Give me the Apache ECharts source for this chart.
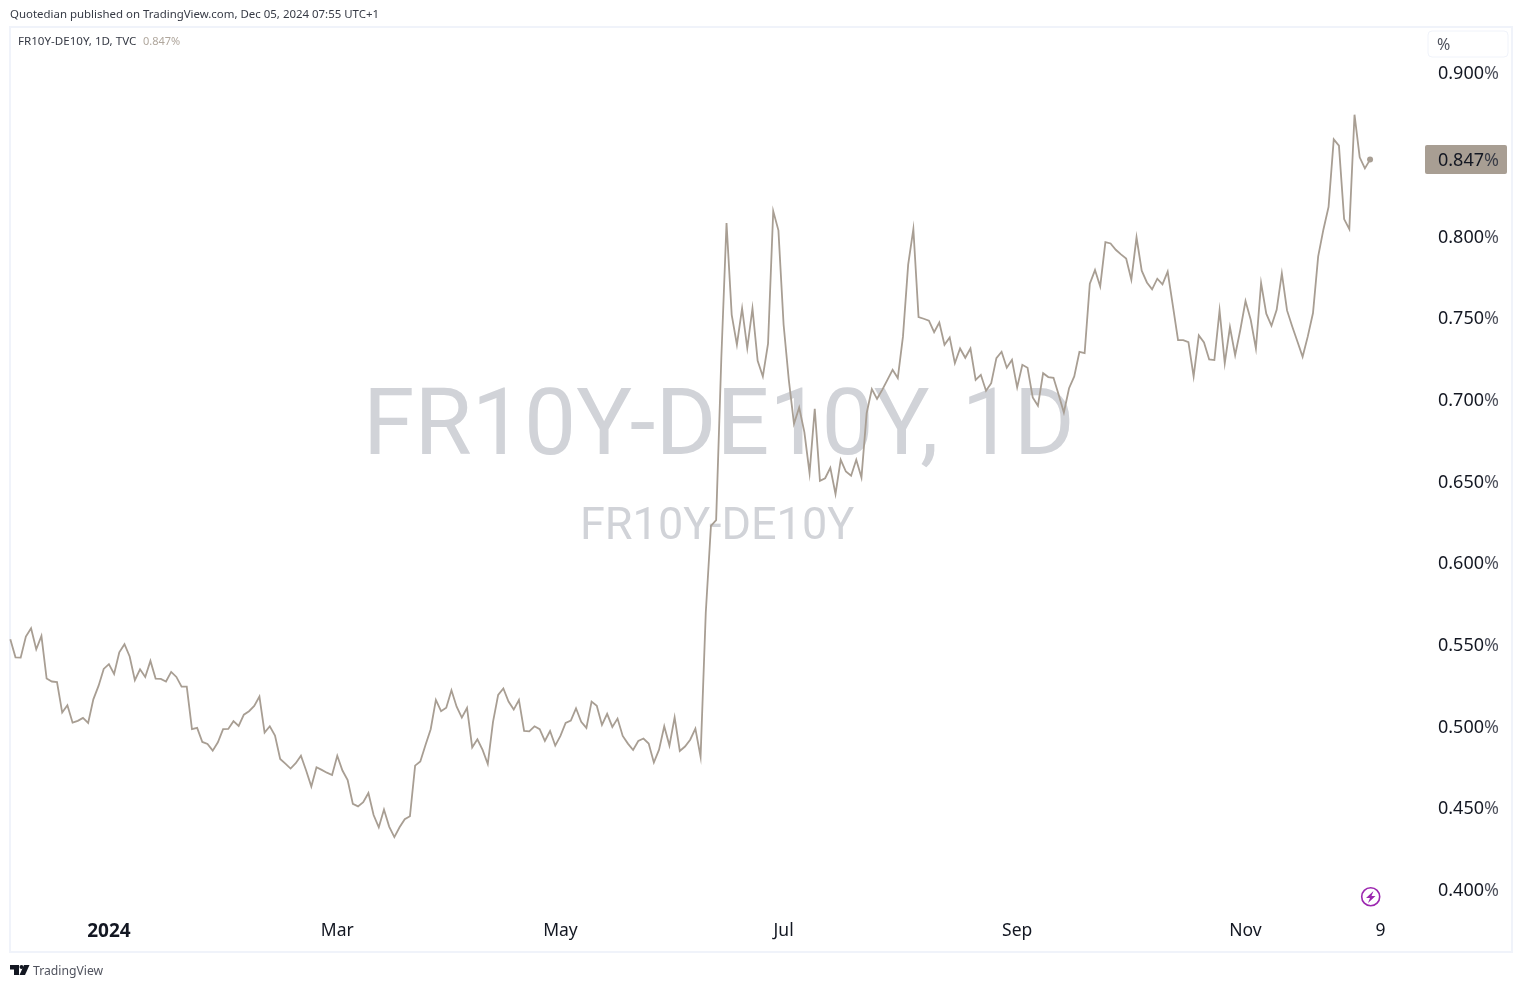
<!DOCTYPE html>
<html>
<head>
<meta charset="utf-8">
<title>FR10Y-DE10Y</title>
<style>html,body{margin:0;padding:0;background:#fff}#c{width:1522px;height:988px}</style>
<script src="https://cdn.jsdelivr.net/npm/echarts@6/dist/echarts.min.js"></script>
</head>
<body>
<div id="c"></div>
<script>
const spreadDec2023toMar = [
.5535,.5424,.5422,.5551,.5602,.5473,.5555,.5294,.5276,.5273,.5086,.5131,.5024,.5035,.5053,.5022,.5167,.5249,.5353,.5382,.5322,.5455,.5504,.5429,.5284,.5351,.5304,.5402,.5294,.5292,.5276,.5335,.5304,.5245,.5245,.4984,.4992,.4906,.4894,.4853,.4904,.4984,.4986,.5033,.5004,.5073,.5094,.5127,.5184,.4963,.5002,.4945,.4802,.4773,.4743,.4776,.4822,.4731,.4633,.4751,.4735,.4718,.4704,.4822,.4731,.4673
];
const spreadMarToJun = [
.4527,.4512,.4537,.4594,.4459,.4384,.4492,.4388,.4324,.4384,.4433,.4451,.4761,.4786,.4888,.4984,.5163,.5094,.5116,.5222,.5122,.5055,.5114,.4873,.4922,.4857,.4771,.5027,.5194,.5233,.5153,.5104,.5163,.4973,.4971,.5002,.4984,.4912,.4973,.4884,.4943,.5022,.5037,.5112,.5029,.4992,.5153,.5127,.5010,.5078,.4998,.5049,.4943,.4896,.4857,.4912,.4927,.4896,.4780,.4859,.5002,.4884,.5057,.4851,.4878,.4920,.4988,.4816
];
const spreadJunToAug = [
.5695,.6229,.6264,.7256,.8082,.7520,.7337,.7559,.7316,.7559,.7239,.7143,.7343,.8155,.8037,.7459,.7122,.6853,.6953,.6802,.6551,.6945,.6504,.6520,.6584,.6424,.6633,.6561,.6535,.6633,.6524,.6918,.7065,.7006,.7061,.7122,.7184,.7133,.7388,.7827,.8045,.7506,.7496,.7484,.7414,.7473
];
const spreadAugToOct = [
.7337,.7382,.7224,.7314,.7257,.7314,.7122,.7153,.7055,.7102,.7255,.7294,.7196,.7245,.7076,.7214,.7196,.7014,.6963,.7163,.7139,.7135,.7031,.6922,.7071,.7143,.7294,.7286,.7710,.7794,.7694,.7965,.7957,.7918,.7890,.7865,.7735,.7994,.7790,.7718,.7676,.7741,.7706,.7784,.7576,.7365,.7365,.7353,.7143,.7394,.7351,.7247,.7243,.7547
];
const spreadOctToDec = [
.7224,.7445,.7273,.7429,.7604,.7490,.7314,.7714,.7527,.7453,.7551,.7773,.7547,.7449,.7357,.7263,.7388,.7531,.7878,.8041,.8180,.8594,.8555,.8106,.8045,.8745,.8484,.8416,.847
];
const spreadValues = [].concat(spreadDec2023toMar, spreadMarToJun, spreadJunToAug, spreadAugToOct, spreadOctToDec);

const xTickDates  = ['2024-01-01','2024-03-01','2024-05-01','2024-07-01','2024-09-02','2024-11-01','2024-12-09'];
const xTickLabels = ['2024','Mar','May','Jul','Sep','Nov','9'];
const lastValue = 0.847;

// weekday calendar, starting 2023-12-05, running past the last bar for the chart's right-hand margin
const categories = [];
for (let d = new Date(Date.UTC(2023,11,5)); categories.length < 273; d = new Date(d.getTime()+864e5)) {
  const w = d.getUTCDay();
  if (w !== 0 && w !== 6) categories.push(d.toISOString().slice(0,10));
}

const FONT = '"Noto Sans", sans-serif';
const WM = 'Roboto, sans-serif';
const LINE = '#a89e93';
const INK = '#131722';
const GRID_LEFT = 10.3, BAR = 5.19, Y_TOP = 73, Y_BOTTOM = 890;

const chart = echarts.init(document.getElementById('c'), null, {renderer:'canvas'});
chart.setOption({
  animation:false,
  backgroundColor:'#fff',
  grid:{left:GRID_LEFT, width:BAR*(categories.length-1), top:Y_TOP, height:Y_BOTTOM-Y_TOP, containLabel:false},
  xAxis:{
    type:'category', data:categories, boundaryGap:false,
    axisLine:{show:false}, axisTick:{show:false}, splitLine:{show:false},
    axisLabel:{
      margin:32, hideOverlap:false,
      interval:(i,v)=>xTickDates.includes(v),
      formatter:v=>{const l=xTickLabels[xTickDates.indexOf(v)];return l==='2024'?'{b|'+l+'}':l;},
      color:INK, fontFamily:FONT, fontSize:17.5,
      rich:{b:{fontWeight:'bold',fontSize:19,color:INK,fontFamily:FONT}}
    }
  },
  yAxis:{
    type:'value', position:'right', min:0.4, max:0.9, interval:0.05,
    axisLine:{show:false}, axisTick:{show:false}, splitLine:{show:false},
    axisLabel:{
      margin:16, align:'left', padding:[2,0,0,0],
      formatter:v=>(Math.abs(v-0.85)<1e-6)?'':'{n|'+v.toFixed(3)+'}{p|%}',
      rich:{n:{color:INK,fontFamily:FONT,fontSize:18},p:{color:'#50535e',fontFamily:FONT,fontSize:18}}
    }
  },
  series:[{
    type:'line', data:spreadValues, showSymbol:false, symbol:'none', sampling:null, z:5,
    lineStyle:{color:LINE,width:1.8,join:'miter'},
    markPoint:{
      silent:true, symbol:'circle', symbolSize:6, label:{show:false},
      itemStyle:{color:LINE},
      data:[{coord:[spreadValues.length-1,lastValue]}]
    }
  }],
  graphic:[
    {id:'wm1',type:'text',z:-1,silent:true,left:363,top:384,style:{text:'FR10Y-DE10Y, 1D',fontFamily:WM,fontSize:93,fill:'#d1d3d8'}},
    {id:'wm2',type:'text',z:-1,silent:true,left:580,top:505,style:{text:'FR10Y-DE10Y',fontFamily:WM,fontSize:45,fill:'#d1d3d8'}},
    {id:'frame',type:'rect',z:-2,silent:true,shape:{x:10,y:27,width:1502,height:925},style:{fill:'none',stroke:'#f0f3fa',lineWidth:2}},
    {id:'pub',type:'text',left:10,top:9,silent:true,style:{text:'Quotedian published on TradingView.com, Dec 05, 2024 07:55 UTC+1',fontFamily:FONT,fontSize:11.45,fill:'#363a45'}},
    {id:'leg',type:'text',left:18,top:36,silent:true,style:{text:'FR10Y-DE10Y, 1D, TVC',fontFamily:FONT,fontSize:11.6,fill:'#363a45'}},
    {id:'legv',type:'text',left:143,top:36,silent:true,style:{text:'0.847%',fontFamily:FONT,fontSize:11,fill:'#b0a79d'}},
    {id:'pbox',type:'rect',silent:true,shape:{x:1428,y:31,width:80,height:26,r:4},style:{fill:'#fff',stroke:'#f0f3fa',lineWidth:1}},
    {id:'ptxt',type:'text',left:1437,top:37,silent:true,style:{text:'%',fontFamily:FONT,fontSize:16,fill:'#50535e'}},
    {id:'bolt1',type:'circle',silent:true,shape:{cx:1370.7,cy:896.8,r:9},style:{fill:'none',stroke:'#9c27b0',lineWidth:1.6}},
    {id:'bolt2',type:'polygon',silent:true,shape:{points:[[1373.5,891],[1366,898],[1370,898],[1368,903],[1375.5,896],[1371.5,896]]},style:{fill:'#9c27b0'}},
    {id:'logo1',type:'polygon',silent:true,shape:{points:[[10,965],[19,965],[19,975],[14,975],[14,969.5],[10,969.5]]},style:{fill:'#131722'}},
    {id:'logo2',type:'circle',silent:true,shape:{cx:21.5,cy:967,r:2},style:{fill:'#131722'}},
    {id:'logo3',type:'polygon',silent:true,shape:{points:[[24,965],[29.5,965],[25,975],[19.5,975]]},style:{fill:'#131722'}},
    {id:'logot',type:'text',left:33,top:966,silent:true,style:{text:'TradingView',fontFamily:FONT,fontSize:12.2,fill:'#50535e'}}
  ]
});

// last-price tag, placed through the value scale
const tagY = chart.convertToPixel({yAxisIndex:0}, lastValue);
chart.setOption({graphic:[
  {id:'tagb',type:'rect',silent:true,z:10,shape:{x:1425,y:tagY-14.5,width:82,height:29,r:2},style:{fill:LINE}},
  {id:'tagt',type:'text',silent:true,z:11,style:{x:1438,y:tagY+1,text:'{n|0.847}{p|%}',verticalAlign:'middle',
    rich:{n:{fill:INK,fontFamily:FONT,fontSize:18},p:{fill:'#3a3d47',fontFamily:FONT,fontSize:18}}}}
]});
</script>
</body>
</html>
